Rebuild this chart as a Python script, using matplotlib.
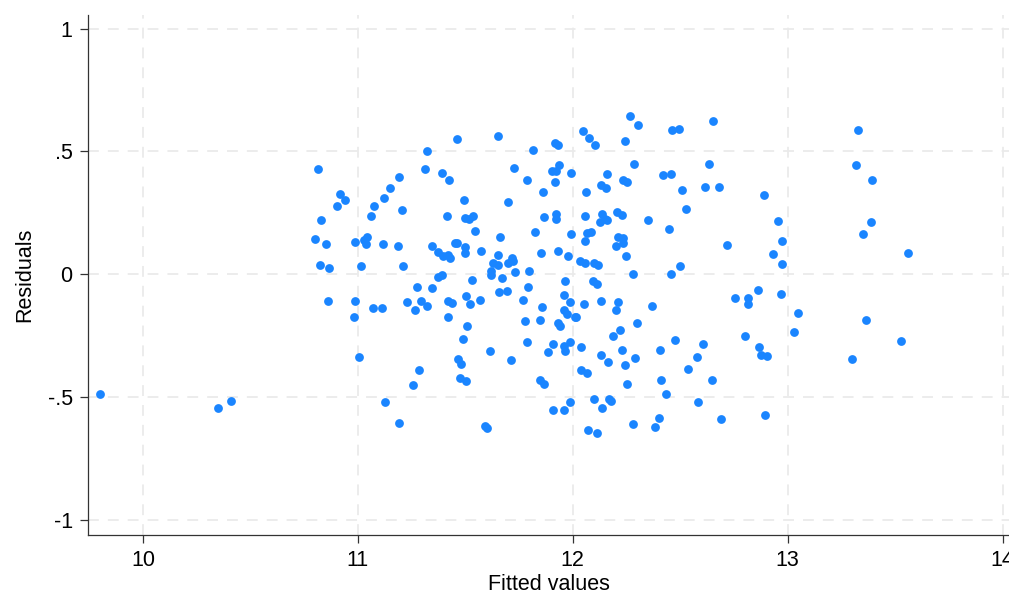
import matplotlib
matplotlib.use("Agg")
import matplotlib.pyplot as plt

plt.rcParams["font.family"] = ["Liberation Sans", "DejaVu Sans"]

# fitted values and residuals
fitted = [
    9.800, 10.349, 10.409, 10.813, 11.322, 11.312, 11.391, 11.425, 11.189, 11.150,
    11.120, 11.076, 11.062, 11.206, 10.918, 10.940, 10.901, 10.827, 11.413, 10.800,
    10.851, 10.985, 11.030, 11.042, 11.036, 11.118, 11.186, 10.823, 10.867, 11.015,
    11.208, 11.343, 11.374, 11.397, 11.420, 11.428, 11.451, 11.374, 11.392, 11.276,
    11.344, 10.860, 10.986, 10.980, 11.068, 11.112, 11.229, 11.292, 11.322, 11.264,
    11.417, 11.436, 11.417, 11.006, 11.284, 11.257, 11.127, 11.192, 11.462, 11.653,
    11.817, 11.916, 11.932, 11.726, 11.786, 11.936, 11.901, 11.924, 11.992, 11.915,
    11.860, 11.493, 11.699, 11.498, 11.518, 11.535, 11.547, 11.662, 11.822, 11.864,
    11.924, 11.922, 11.992, 11.459, 11.498, 11.498, 11.571, 11.653, 11.715, 11.722,
    11.698, 11.627, 11.653, 11.620, 11.620, 11.671, 11.730, 11.797, 11.850, 11.932,
    11.978, 11.529, 11.964, 11.657, 11.696, 11.792, 11.502, 11.524, 11.567, 11.769,
    11.961, 11.986, 11.859, 11.958, 11.973, 11.508, 11.777, 11.847, 11.929, 11.941,
    12.009, 11.488, 11.615, 11.787, 11.907, 11.885, 11.960, 11.966, 11.986, 11.464,
    11.480, 11.713, 11.473, 11.501, 11.847, 11.868, 11.907, 11.958, 11.986, 11.591,
    11.599, 12.264, 12.302, 12.047, 12.074, 12.104, 12.243, 12.464, 12.492, 12.285,
    12.160, 12.062, 12.133, 12.153, 12.236, 12.254, 12.420, 12.457, 12.510, 12.527,
    12.059, 12.138, 12.126, 12.149, 12.157, 12.206, 12.229, 12.349, 12.447, 12.068,
    12.085, 12.057, 12.211, 12.234, 12.233, 12.203, 12.248, 12.034, 12.059, 12.101,
    12.118, 12.280, 12.456, 12.499, 12.094, 12.115, 12.017, 12.054, 12.133, 12.211,
    12.200, 12.369, 12.298, 12.219, 12.189, 12.039, 12.133, 12.166, 12.227, 12.288,
    12.243, 12.406, 12.474, 12.040, 12.068, 12.253, 12.535, 12.411, 12.434, 12.099,
    12.169, 12.180, 12.136, 12.279, 12.399, 12.383, 12.070, 12.112, 12.651, 12.633,
    12.617, 12.679, 12.890, 12.955, 12.720, 12.974, 12.932, 12.974, 13.326, 13.316,
    13.394, 13.389, 13.350, 13.561, 12.860, 12.969, 12.755, 12.815, 12.815, 13.050,
    13.028, 12.803, 12.606, 12.580, 12.648, 12.865, 12.874, 12.902, 12.581, 12.688,
    12.894, 13.366, 13.527, 13.301,
]
resid = [
    -0.489, -0.546, -0.517, 0.428, 0.501, 0.428, 0.411, 0.384, 0.394, 0.349,
    0.308, 0.278, 0.235, 0.259, 0.325, 0.301, 0.278, 0.220, 0.237, 0.141,
    0.121, 0.132, 0.138, 0.152, 0.122, 0.122, 0.113, 0.037, 0.026, 0.033,
    0.033, 0.115, 0.091, 0.073, 0.077, 0.064, 0.127, -0.011, -0.004, -0.052,
    -0.057, -0.111, -0.110, -0.175, -0.137, -0.138, -0.113, -0.111, -0.129, -0.148,
    -0.111, -0.119, -0.175, -0.337, -0.391, -0.452, -0.523, -0.608, 0.550, 0.562,
    0.504, 0.535, 0.524, 0.431, 0.383, 0.444, 0.418, 0.418, 0.413, 0.375,
    0.333, 0.303, 0.293, 0.228, 0.225, 0.236, 0.176, 0.149, 0.171, 0.233,
    0.244, 0.225, 0.162, 0.126, 0.111, 0.087, 0.094, 0.076, 0.064, 0.054,
    0.044, 0.044, 0.035, 0.014, -0.002, -0.018, 0.009, 0.011, 0.084, 0.094,
    0.075, -0.026, -0.029, -0.073, -0.070, -0.052, -0.088, -0.121, -0.107, -0.107,
    -0.087, -0.114, -0.133, -0.148, -0.163, -0.211, -0.190, -0.187, -0.201, -0.212,
    -0.174, -0.264, -0.315, -0.277, -0.284, -0.319, -0.292, -0.312, -0.278, -0.347,
    -0.367, -0.349, -0.424, -0.436, -0.432, -0.449, -0.554, -0.554, -0.523, -0.619,
    -0.629, 0.645, 0.607, 0.581, 0.553, 0.527, 0.542, 0.587, 0.591, 0.449,
    0.407, 0.333, 0.363, 0.349, 0.383, 0.375, 0.402, 0.407, 0.342, 0.264,
    0.235, 0.243, 0.213, 0.224, 0.219, 0.254, 0.239, 0.219, 0.183, 0.167,
    0.171, 0.134, 0.149, 0.145, 0.127, 0.114, 0.073, 0.053, 0.045, 0.046,
    0.038, 0.000, 0.000, 0.033, -0.029, -0.042, -0.175, -0.122, -0.109, -0.113,
    -0.147, -0.129, -0.201, -0.227, -0.254, -0.299, -0.331, -0.357, -0.310, -0.342,
    -0.369, -0.308, -0.270, -0.391, -0.404, -0.449, -0.388, -0.432, -0.489, -0.510,
    -0.510, -0.519, -0.547, -0.611, -0.587, -0.623, -0.635, -0.649, 0.624, 0.448,
    0.354, 0.354, 0.323, 0.217, 0.118, 0.133, 0.083, 0.041, 0.585, 0.443,
    0.384, 0.213, 0.162, 0.084, -0.065, -0.081, -0.098, -0.099, -0.123, -0.160,
    -0.237, -0.251, -0.285, -0.338, -0.432, -0.297, -0.330, -0.334, -0.523, -0.591,
    -0.573, -0.186, -0.274, -0.347,
]

xticks = [10, 11, 12, 13, 14]
yticks = [-1, -0.5, 0, 0.5, 1]
ytick_labels = ["-1", "-.5", "0", ".5", "1"]

fig = plt.figure(figsize=(10.09, 5.96), dpi=100)
ax = fig.add_axes([88 / 1009, 61 / 596, 921 / 1009, 520 / 596])

ax.scatter(fitted, resid, s=40, color="#1a85ff", linewidths=0, zorder=3)

ax.set_xlim(9.744, 14.03)
ax.set_ylim(-1.063, 1.055)
ax.set_xticks(xticks)
ax.set_xticklabels([str(t) for t in xticks])
ax.set_yticks(yticks)
ax.set_yticklabels(ytick_labels)

ax.grid(True, color="#eaeaea", linestyle=(0, (6, 5)), linewidth=1.3, zorder=0)
ax.set_axisbelow(True)

for side in ["top", "right"]:
    ax.spines[side].set_visible(False)
for side in ["left", "bottom"]:
    ax.spines[side].set_linewidth(0.9)
    ax.spines[side].set_color("#333333")

ax.tick_params(axis="both", direction="out", length=6, width=0.9,
               color="#333333", labelsize=15.5, pad=5)
ax.set_xlabel("Fitted values", fontsize=15.5, labelpad=2)
ax.set_ylabel("Residuals", fontsize=15.5, labelpad=9)

fig.savefig("out.png", dpi=100)
